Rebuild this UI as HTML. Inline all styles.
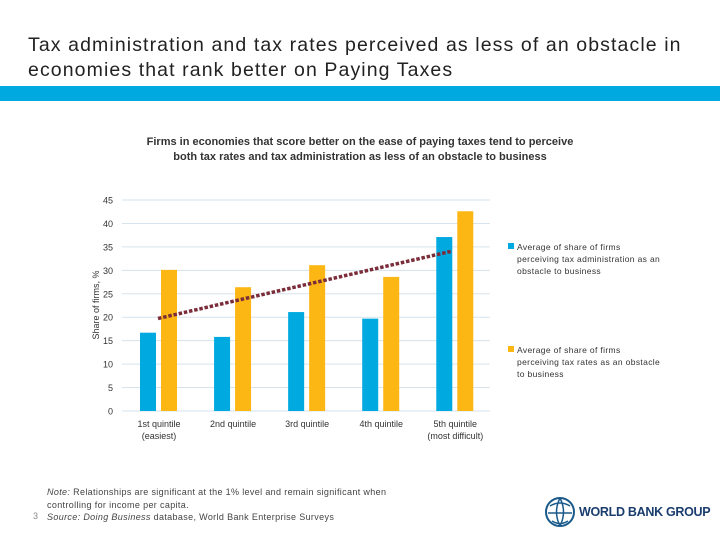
<!DOCTYPE html>
<html><head><meta charset="utf-8">
<style>
body{margin:0;width:720px;height:540px;background:#fff;position:relative;overflow:hidden;font-family:"Liberation Sans",sans-serif;}
.abs{position:absolute;}
</style></head>
<body>
<div class="abs" style="left:28px;top:33px;width:680px;font-size:19.5px;line-height:25px;color:#222;letter-spacing:1.1px;">Tax administration and tax rates perceived as less of an obstacle in economies that rank better on Paying Taxes</div>
<div class="abs" style="left:0;top:86px;width:720px;height:15px;background:#00a9e0;"></div>
<div class="abs" style="left:137px;top:135px;width:446px;text-align:center;font-size:11px;font-weight:bold;line-height:15px;color:#333;">Firms in economies that score better on the ease of paying taxes tend to perceive both tax rates and tax administration as less of an obstacle to business</div>
<svg class="abs" style="left:0;top:0" width="720" height="540" id="chart"></svg>
<div class="abs" style="left:47px;top:486px;font-size:9px;line-height:12.5px;color:#444;letter-spacing:0.35px;"><i>Note:</i> Relationships are significant at the 1% level and remain significant when<br>controlling for income per capita.<br><i>Source: Doing Business</i> database, World Bank Enterprise Surveys</div>
<div class="abs" style="left:33px;top:511px;font-size:9px;color:#888;">3</div>
<svg class="abs" style="left:544px;top:496px" width="32" height="32" viewBox="0 0 32 32"><circle cx="16" cy="16" r="14" fill="none" stroke="#1a5a8a" stroke-width="2"/><path d="M6 10 Q16 4 26 10 M4 17 H28 M8 25 Q16 30 24 25 M16 2 Q9 16 16 30 M16 2 Q23 16 16 30" fill="none" stroke="#1a5a8a" stroke-width="1.5"/></svg>
<div class="abs" style="left:579px;top:505px;font-size:12.5px;font-weight:bold;color:#1a3d6d;letter-spacing:-0.3px;">WORLD BANK GROUP</div>
<script>
const categories=["1st quintile|(easiest)","2nd quintile","3rd quintile","4th quintile","5th quintile|(most difficult)"];
const adminValues=[16.7,15.8,21.1,19.7,37.1];
const ratesValues=[30.1,26.4,31.1,28.6,42.6];
const yTicks=[0,5,10,15,20,25,30,35,40,45];
const legendLabels=["Average of share of firms|perceiving tax administration as an|obstacle to business","Average of share of firms|perceiving tax rates as an obstacle|to business"];
const NS="http://www.w3.org/2000/svg";
const svg=document.getElementById('chart');
const x0=122,x1=490,yZero=411,yTop=200,yMax=45;
const yS=v=>yZero-(v/yMax)*(yZero-yTop);
const band=(x1-x0+8)/categories.length;
const cx=i=>158+i*band*0.985;
function mk(t,a){const e=document.createElementNS(NS,t);for(const k in a)e.setAttribute(k,a[k]);svg.appendChild(e);return e;}
yTicks.forEach(t=>{
  const l=mk('line',{x1:x0,x2:x1,y1:yS(t),y2:yS(t),stroke:'#d5e3ec','stroke-width':1});
  
  
  const tx=mk('text',{x:113,y:yS(t)+3.5,'text-anchor':'end','font-size':9,fill:'#333'});
  tx.textContent=t;
  
  
});
const yt=mk('text',{transform:'translate(99,305) rotate(-90)','text-anchor':'middle','font-size':9,fill:'#333'});
yt.textContent='Share of firms, %';


const bw=16;
categories.forEach((c,i)=>{
  const b1=mk('rect',{x:cx(i)-10-bw/2,y:yS(adminValues[i]),width:bw,height:yZero-yS(adminValues[i]),fill:'#00a9e0'});
  
  
  const b2=mk('rect',{x:cx(i)+11-bw/2,y:yS(ratesValues[i]),width:bw,height:yZero-yS(ratesValues[i]),fill:'#fdb714'});
  
  
  c.split('|').forEach((s,j)=>{
    const t=mk('text',{x:cx(i)+1,y:427+j*12,'text-anchor':'middle','font-size':9,fill:'#333'});
    t.textContent=s;
    
    
  });
});
const means=adminValues.map((v,i)=>(v+ratesValues[i])/2);
const n=means.length,xm=(n+1)/2,ym=means.reduce((a,b)=>a+b,0)/n;
let num=0,den=0;means.forEach((v,i)=>{num+=(i+1-xm)*(v-ym);den+=(i+1-xm)**2;});
const slope=num/den,ic=ym-slope*xm;
const tl=mk('line',{x1:cx(0),y1:yS(ic+slope*1),x2:cx(n-1)-2,y2:yS(ic+slope*n),stroke:'#7b2d3a','stroke-width':3.5,'stroke-dasharray':'3.5,1.8'});


[['#00a9e0',247],['#fdb714',350]].forEach(([col,y],k)=>{
  const r=mk('rect',{x:508,y:y-4,width:6,height:6,fill:col});
  
  
  legendLabels[k].split('|').forEach((s,j)=>{
    const t=mk('text',{x:517,y:y+3+j*12,'font-size':8.5,fill:'#333','letter-spacing':'0.35'});
    t.textContent=s;
    
    
  });
});
</script>
</body></html>
